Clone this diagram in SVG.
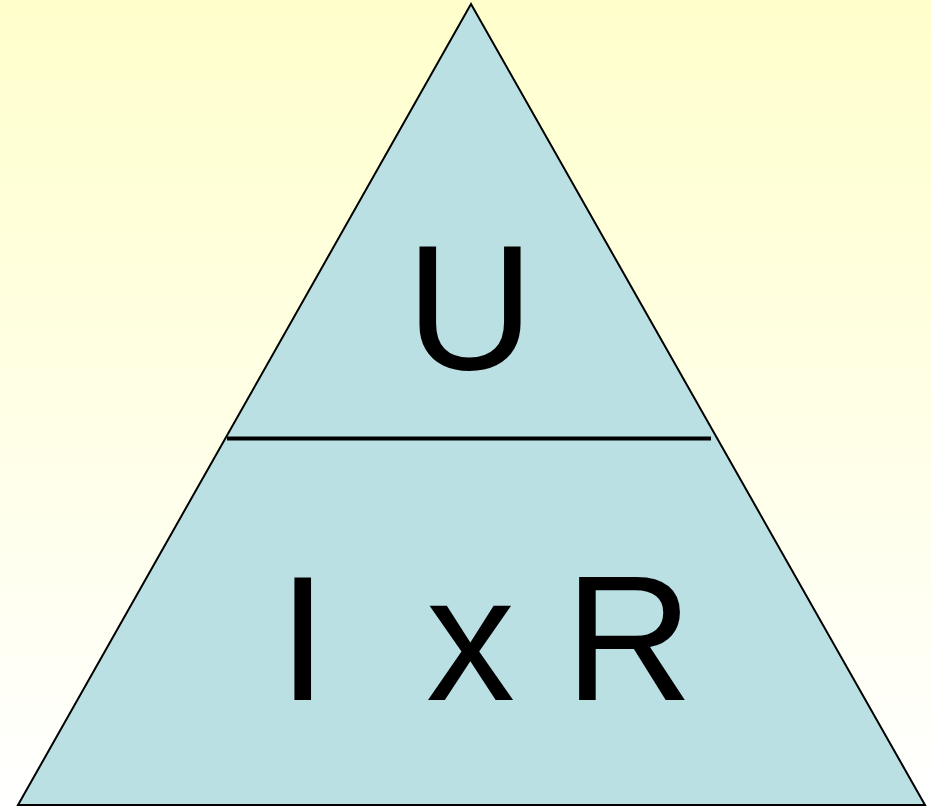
<svg xmlns="http://www.w3.org/2000/svg" width="931" height="808" viewBox="0 0 931 808">
<defs>
<linearGradient id="bg" x1="0" y1="0" x2="0" y2="1">
<stop offset="0" stop-color="#FFFFCC"/>
<stop offset="1" stop-color="#FFFFFF"/>
</linearGradient>
<style>
.lbl{font-family:"Liberation Sans",Arial,sans-serif;font-size:178px;fill:#000}
</style>
</defs>
<rect width="931" height="808" fill="url(#bg)"/>
<g id="triangle">
<polygon points="471,4 18,805 925,805" fill="#BBE0E3" stroke="#000" stroke-width="2" stroke-linejoin="miter"/>
<line x1="227" y1="438.5" x2="711" y2="438.5" stroke="#000" stroke-width="4"/>
</g>
<g id="top">
<text class="lbl" x="470" y="369" text-anchor="middle">U</text>
</g>
<g id="bottom">
<text class="lbl" x="278" y="700">I <tspan dx="49">x R</tspan></text>
</g>
</svg>
